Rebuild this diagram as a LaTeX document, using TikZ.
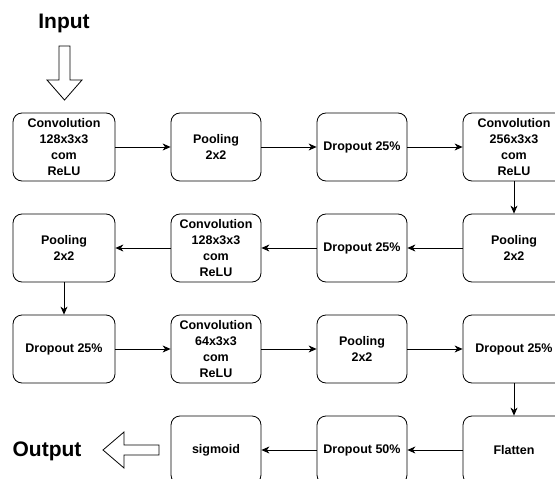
\documentclass[tikz,border=0pt]{standalone}
\usepackage{fontspec}
\setmainfont{Liberation Sans}
\usetikzlibrary{arrows.meta}
\tikzset{
  box/.style={draw, line width=0.8pt, rounded corners=9pt, minimum height=68pt, align=center, inner sep=0pt,
    font=\bfseries\fontsize{12.5}{16.3}\selectfont},
  wide/.style={box, minimum width=102pt},
  narrow/.style={box, minimum width=90pt},
  conn/.style={draw, line width=0.8pt, -{Stealth[length=8pt,width=7pt,inset=2.5pt]}},
  blockarrow/.style={draw, line width=0.8pt, fill=white},
  title/.style={font=\bfseries\fontsize{21}{24}\selectfont, inner sep=0pt}
}
\begin{document}
\begin{tikzpicture}[x=1pt,y=-1pt]
\useasboundingbox (0,0) rectangle (555,479);
% row 1
\node[wide]   (a1) at (64,147)  {Convolution\\128x3x3\\com\\ReLU};
\node[narrow] (a2) at (216,147) {Pooling\\2x2};
\node[narrow] (a3) at (362,147) {Dropout 25\%};
\node[wide]   (a4) at (514,147) {Convolution\\256x3x3\\com\\ReLU};
% row 2
\node[wide]   (b1) at (64,248)  {Pooling\\2x2};
\node[narrow] (b2) at (216,248) {Convolution\\128x3x3\\com\\ReLU};
\node[narrow] (b3) at (362,248) {Dropout 25\%};
\node[wide]   (b4) at (514,248) {Pooling\\2x2};
% row 3
\node[wide]   (c1) at (64,349)  {Dropout 25\%};
\node[narrow] (c2) at (216,349) {Convolution\\64x3x3\\com\\ReLU};
\node[narrow] (c3) at (362,349) {Pooling\\2x2};
\node[wide]   (c4) at (514,349) {Dropout 25\%};
% row 4
\node[narrow] (d2) at (216,450) {sigmoid};
\node[narrow] (d3) at (362,450) {Dropout 50\%};
\node[wide]   (d4) at (514,450) {Flatten};
% titles
\node[title] (in)  at (64,23)  {Input};
\node[title] (out) at (47,451) {Output};
% connectors
\draw[conn] (a1) -- (a2);
\draw[conn] (a2) -- (a3);
\draw[conn] (a3) -- (a4);
\draw[conn] (a4) -- (b4);
\draw[conn] (b4) -- (b3);
\draw[conn] (b3) -- (b2);
\draw[conn] (b2) -- (b1);
\draw[conn] (b1) -- (c1);
\draw[conn] (c1) -- (c2);
\draw[conn] (c2) -- (c3);
\draw[conn] (c3) -- (c4);
\draw[conn] (c4) -- (d4);
\draw[conn] (d4) -- (d3);
\draw[conn] (d3) -- (d2);
% block arrows
\draw[blockarrow] (59,46) -- (70,46) -- (70,80) -- (82,80) -- (64.5,100) -- (47,80) -- (59,80) -- cycle;
\draw[blockarrow] (159,445) -- (124,445) -- (124,432) -- (103,450) -- (124,468) -- (124,455) -- (159,455) -- cycle;
\end{tikzpicture}
\end{document}
